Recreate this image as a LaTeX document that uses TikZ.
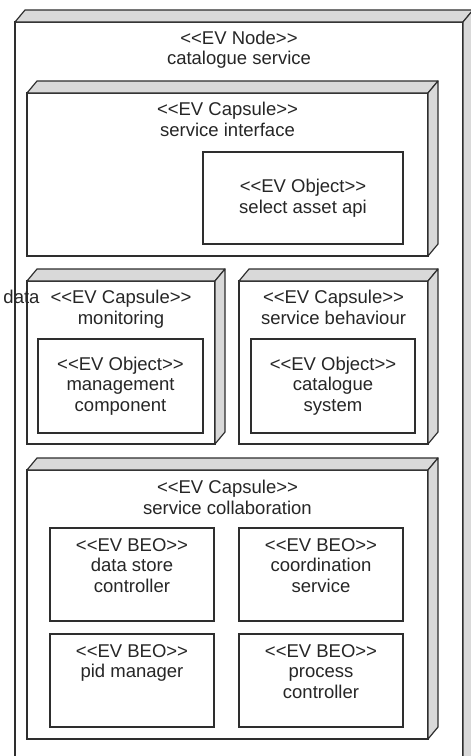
\documentclass[tikz,border=0pt]{standalone}
\usepackage{fontspec}
\setmainfont{Liberation Sans}[Ligatures=TeXOff]
\usetikzlibrary{calc}
\definecolor{ln}{HTML}{2E2E2E}
\definecolor{sidegray}{HTML}{D9D9D9}
\definecolor{txt}{HTML}{262626}
\tikzset{
  box/.style={draw=ln, line width=1.2pt, fill=white, rectangle, inner sep=0pt, outer sep=0pt, anchor=north west},
  face/.style={draw=ln, line width=1.2pt, fill=sidegray, line join=round},
  lbl/.style={font=\fontsize{18.5}{20.5}\selectfont, text=txt, align=center, inner sep=0pt, outer sep=0pt},
}
% #1 name, #2 x, #3 y, #4 width, #5 height
\newcommand{\evcapsule}[5]{%
  \node[box, minimum width=#4, minimum height=#5] (#1) at (#2,#3) {};
  \draw[face] (#1.north west) -- ++(10,-12) -- ($(#1.north east)+(10,-12)$) -- (#1.north east) -- cycle;
  \draw[face] (#1.north east) -- ++(10,-12) -- ($(#1.south east)+(10,-12)$) -- (#1.south east) -- cycle;
}
\newcommand{\evobject}[5]{%
  \node[box, minimum width=#4, minimum height=#5] (#1) at (#2,#3) {};
}
\begin{document}
\begin{tikzpicture}[x=1pt,y=-1pt]
\useasboundingbox (0,0) rectangle (471,756);
\clip (0,0) rectangle (471,756);
\fill[white] (0,0) rectangle (471,756);

% outer node
\evcapsule{evnode}{15}{22}{448}{800}
\node[lbl, anchor=north] (tnode) at (239,31) {<<EV Node>>\\catalogue service};

% service interface
\evcapsule{capint}{27}{93}{401}{163}
\node[lbl, anchor=north] (tint) at (227.5,102.3) {<<EV Capsule>>\\service interface};
\evobject{objapi}{203}{152}{200}{92}
\node[lbl] (tapi) at (objapi.center) {<<EV Object>>\\select asset api};

% monitoring
\evcapsule{capmon}{27}{281}{188}{163}
\node[lbl, anchor=north] (tmon) at (121,290.5) {<<EV Capsule>>\\monitoring};
\node[lbl, anchor=base east] (tdata) at (39.5,303.8) {data};
\evobject{objman}{38}{339}{165}{94}
\node[lbl] (tman) at (objman.center) {<<EV Object>>\\management\\component};

% service behaviour
\evcapsule{capbeh}{239}{281}{189}{163}
\node[lbl, anchor=north] (tbeh) at (333.5,290.5) {<<EV Capsule>>\\service behaviour};
\evobject{objcat}{251}{339}{164}{94}
\node[lbl] (tcat) at (objcat.center) {<<EV Object>>\\catalogue\\system};

% service collaboration
\evcapsule{capcol}{27}{470}{401}{269}
\node[lbl, anchor=north] (tcol) at (227.5,480.5) {<<EV Capsule>>\\service collaboration};
\evobject{beoa}{50}{528}{164}{93}
\node[lbl, anchor=north] (tbeoa) at ($(beoa.north)+(0,10.5)$) {<<EV BEO>>\\data store\\controller};
\evobject{beob}{239}{528}{164}{93}
\node[lbl, anchor=north] (tbeob) at ($(beob.north)+(0,10.5)$) {<<EV BEO>>\\coordination\\service};
\evobject{beoc}{50}{634}{164}{93}
\node[lbl, anchor=north] (tbeoc) at ($(beoc.north)+(0,10.5)$) {<<EV BEO>>\\pid manager};
\evobject{beod}{239}{634}{164}{93}
\node[lbl, anchor=north] (tbeod) at ($(beod.north)+(0,10.5)$) {<<EV BEO>>\\process\\controller};
\end{tikzpicture}
\end{document}
